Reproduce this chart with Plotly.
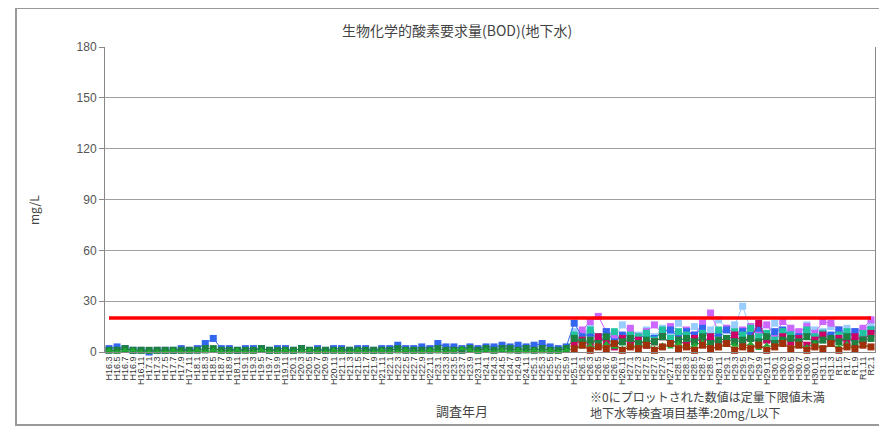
import plotly.graph_objects as go

# ---------------- data ----------------
labels = [
    "H16.3", "H16.5", "H16.7", "H16.9", "H16.11",
    "H17.1", "H17.3", "H17.5", "H17.7", "H17.9", "H17.11",
    "H18.1", "H18.3", "H18.5", "H18.7", "H18.9", "H18.11",
    "H19.1", "H19.3", "H19.5", "H19.7", "H19.9", "H19.11",
    "H20.1", "H20.3", "H20.5", "H20.7", "H20.9", "H20.11",
    "H21.1", "H21.3", "H21.5", "H21.7", "H21.9", "H21.11",
    "H22.1", "H22.3", "H22.5", "H22.7", "H22.9", "H22.11",
    "H23.1", "H23.3", "H23.5", "H23.7", "H23.9", "H23.11",
    "H24.1", "H24.3", "H24.5", "H24.7", "H24.9", "H24.11",
    "H25.1", "H25.3", "H25.5", "H25.7", "H25.9", "H25.11",
    "H26.1", "H26.3", "H26.5", "H26.7", "H26.9", "H26.11",
    "H27.1", "H27.3", "H27.5", "H27.7", "H27.9", "H27.11",
    "H28.1", "H28.3", "H28.5", "H28.7", "H28.9", "H28.11",
    "H29.1", "H29.3", "H29.5", "H29.7", "H29.9", "H29.11",
    "H30.1", "H30.3", "H30.5", "H30.7", "H30.9", "H30.11",
    "H31.1", "H31.3", "R1.5", "R1.7", "R1.9", "R1.11", "R2.1",
]

well_a = [2, 3, 2, 1, 1, 0, 1, 1, 1, 2,
          1, 2, 5, 8, 2, 2, 1, 2, 2, 2,
          1, 2, 2, 1, 2, 1, 2, 1, 2, 2,
          1, 2, 2, 1, 2, 2, 4, 2, 2, 3,
          2, 5, 3, 3, 2, 3, 2, 3, 3, 4,
          3, 4, 3, 4, 5, 3, 2, 3, 17, 9,
          11, 8, 12, 6, 10, 9, 7, 11, 8, 12,
          13, 9, 12, 10, 14, 8, 11, 13, 9, 12,
          10, 14, 8, 12, 13, 10, 9, 12, 8, 11,
          10, 13, 9, 12, 8, 13]

well_b = [1, 0, 1, 1, 0, 0, 0, 0, 1, 0,
          0, 1, 0, 1, 0, 0, 1, 0, 0, 1,
          0, 0, 1, 0, 0, 1, 0, 0, 1, 0,
          0, 1, 0, 0, 1, 0, 0, 1, 0, 0,
          1, 0, 0, 1, 2, 1, 0, 1, 0, 1,
          0, 1, 0, 1, 0, 1, 0, 1, 2, 3,
          4, 2, 5, 3, 2, 4, 3, 5, 2, 4,
          3, 5, 2, 4, 6, 3, 2, 5, 4, 3,
          5, 2, 4, 3, 6, 2, 4, 3, 5, 2,
          4, 3, 5, 2, 4, 3]

well_c = [1, 1, 2, 1, 1, 1, 1, 1, 1, 1,
          1, 1, 2, 2, 1, 1, 1, 1, 1, 2,
          1, 1, 1, 1, 2, 1, 1, 1, 1, 1,
          1, 1, 1, 1, 1, 1, 2, 1, 1, 1,
          1, 2, 1, 1, 1, 2, 1, 2, 1, 2,
          2, 1, 2, 1, 2, 1, 1, 2, 8, 6,
          7, 5, 9, 4, 6, 8, 5, 7, 6, 9,
          5, 7, 8, 6, 9, 5, 7, 8, 6, 7,
          8, 6, 9, 5, 7, 8, 6, 9, 5, 7,
          8, 6, 9, 5, 7, 8]

# wells added from H25.11 onward
late_labels = labels[58:]
well_d = [12, 10, 14, 9, 11, 8, 16, 12, 10, 13, 9, 14, 11, 17, 12, 15, 10, 13, 19,
          14, 16, 27, 13, 15, 11, 17, 12, 14, 10, 16, 13, 12, 15, 11, 14, 12, 13, 16]
well_e = [9, 13, 18, 21, 12, 10, 7, 14, 9, 12, 16, 11, 15, 9, 13, 10, 17, 23, 12,
          14, 11, 13, 15, 12, 16, 10, 18, 14, 12, 15, 11, 18, 17, 13, 10, 12, 14, 19]
well_f = [10, 7, 13, 9, 8, 12, 6, 10, 9, 11, 7, 13, 8, 12, 10, 6, 11, 9, 13,
          8, 12, 10, 14, 9, 11, 7, 12, 10, 8, 13, 9, 11, 7, 10, 12, 8, 11, 13]
well_h = [5, 7, 4, 9, 6, 3, 8, 5, 7, 4, 6, 9, 5, 7, 4, 8, 6, 9, 5,
          7, 10, 6, 8, 17, 7, 5, 9, 6, 8, 4, 7, 10, 5, 8, 6, 9, 7, 11]
well_g = [2, 4, 1, 3, 2, 5, 1, 3, 2, 4, 1, 3, 5, 2, 3, 1, 4, 2, 3,
          5, 1, 3, 2, 4, 1, 3, 5, 2, 4, 1, 3, 2, 5, 1, 3, 2, 4, 3]

standard = 20  # 地下水等検査項目基準 (mg/L)
y_ticks = [0, 30, 60, 90, 120, 150, 180]

# ---------------- figure ----------------
FONT = "Noto Sans CJK JP, Liberation Sans, sans-serif"
fig = go.Figure()

def add_series(x, y, color, symbol="square", size=7):
    fig.add_trace(go.Scatter(
        x=x, y=y, mode="lines+markers",
        line=dict(color=color, width=1),
        marker=dict(color=color, symbol=symbol, size=size),
        cliponaxis=False, showlegend=False, hoverinfo="x+y"))

add_series(late_labels, well_d, "#99CCFF")
add_series(late_labels, well_e, "#CC66FF")
add_series(labels, well_a, "#3366EE")
add_series(late_labels, well_f, "#22C4A0")
add_series(late_labels, well_h, "#CC0066")
add_series(labels, well_c, "#1E8040")
add_series(labels, well_b, "#22AA33", symbol="triangle-up", size=6)
add_series(late_labels, well_g, "#A0300A")

fig.add_trace(go.Scatter(
    x=[labels[0], labels[-1]], y=[standard, standard], mode="lines",
    line=dict(color="#FF0000", width=3.5), showlegend=False, hoverinfo="skip"))

# page body has an 8px margin: lay out in reference pixel coords minus 8
OFF = 8
W, H = 887 - OFF, 428 - OFF
L, T = 105 - OFF, 47 - OFF
R = W - (875 - OFF)
B = H - (352 - OFF)
pw, ph = W - L - R, H - T - B

def px(x):
    return (x - OFF - L) / pw

def py(y):
    return (H - B - (y - OFF)) / ph

fig.update_layout(
    width=W, height=H,
    margin=dict(l=L, r=R, t=T, b=B),
    paper_bgcolor="white", plot_bgcolor="white",
    font=dict(family=FONT, color="#444444"),
    showlegend=False,
    xaxis=dict(
        type="category", categoryorder="array", categoryarray=labels,
        tickmode="array", tickvals=labels, ticktext=labels,
        tickangle=-90, tickfont=dict(size=9, color="#333333", family="Liberation Sans, Arial"),
        showgrid=False, showline=True, linecolor="#888888", linewidth=1,
        ticks="", range=[-0.5, len(labels) - 0.5], automargin=False),
    yaxis=dict(
        range=[0, 180], tickvals=y_ticks, ticktext=[str(v) for v in y_ticks],
        tickfont=dict(size=12, color="#555555", family="Liberation Sans, Arial"),
        showgrid=True, gridcolor="#A0A0A0", gridwidth=1,
        showline=True, linecolor="#888888", linewidth=1, mirror=True,
        ticks="outside", ticklen=5, tickcolor="#888888", zeroline=False,
        automargin=False),
)

fig.add_shape(type="rect", xref="paper", yref="paper",
              x0=px(16), x1=px(882), y0=py(425), y1=py(8),
              line=dict(color="#999999", width=2), layer="below")

annots = [
    dict(text="生物化学的酸素要求量(BOD)(地下水)", x=px(457), y=py(30), size=14),
    dict(text="mg/L", x=px(33), y=py(210), size=12, angle=-90),
    dict(text="調査年月", x=px(462), y=py(410), size=13),
]
for a in annots:
    fig.add_annotation(text=a["text"], xref="paper", yref="paper", x=a["x"], y=a["y"],
                       showarrow=False, xanchor="center", yanchor="middle",
                       textangle=a.get("angle", 0),
                       font=dict(size=a["size"], color="#444444", family=FONT))

fig.add_annotation(
    text="※0にプロットされた数値は定量下限値未満<br>地下水等検査項目基準:20mg/L以下",
    xref="paper", yref="paper", x=px(588), y=py(404), xanchor="left", yanchor="middle",
    align="left", showarrow=False,
    font=dict(size=12, color="#444444", family=FONT))

fig.write_html("out.html")
